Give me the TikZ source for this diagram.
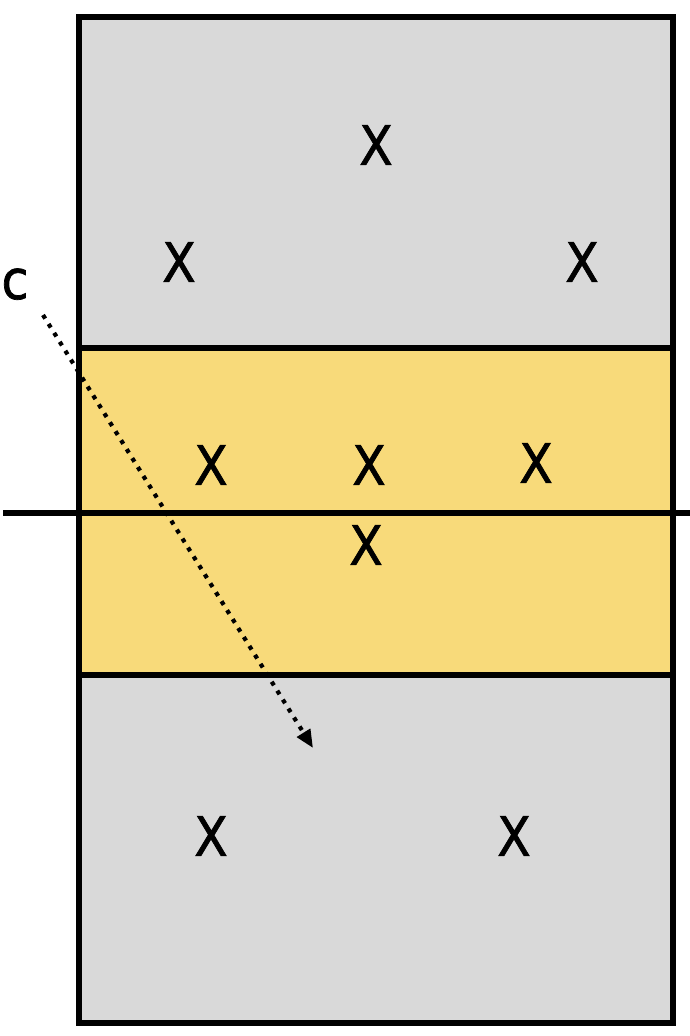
\documentclass[tikz,border=0pt]{standalone}
\usepackage{fontspec}
\setmainfont[FakeBold=1.3]{DejaVu Sans Condensed}
\usetikzlibrary{arrows.meta}
\definecolor{courtg}{HTML}{D9D9D9}
\definecolor{zoney}{HTML}{F8DA7A}
\tikzset{
  line/.style={line width=3.3pt,black},
  player/.style={font=\fontsize{31}{34}\selectfont,inner sep=0pt},
  run/.style={-{Triangle[length=3.6mm,width=3mm]},line width=2.4pt,dash pattern=on 2.4pt off 3.6pt}
}
\begin{document}
\begin{tikzpicture}[x=0.02cm,y=-0.02cm]
\useasboundingbox (0,0) rectangle (690,1036);
% court
\fill[courtg] (79,17) rectangle (673,348);
\fill[zoney] (79,348) rectangle (673,675);
\fill[courtg] (79,675) rectangle (673,1023);
\draw[line] (79,348)--(673,348) (79,675)--(673,675);
\draw[line] (79,17) rectangle (673,1023);
% net
\coordinate (netl) at (3,513);
\coordinate (netr) at (690,513);
\draw[line] (netl)--(netr);
% players
\node[player] (p1) at (376,145) {X};
\node[player] (p2) at (179,262) {X};
\node[player] (p3) at (582,262) {X};
\node[player] (p4) at (211,465) {X};
\node[player] (p5) at (369,465) {X};
\node[player] (p6) at (536,463) {X};
\node[player] (p7) at (366,545) {X};
\node[player] (p8) at (211,836) {X};
\node[player] (p9) at (514,836) {X};
% run of c
\node[player,anchor=base] (c) at (15,299) {c};
\coordinate (cstart) at (43,315);
\coordinate (cend) at (313,748);
\draw[run] (cstart)--(cend);
\end{tikzpicture}
\end{document}
